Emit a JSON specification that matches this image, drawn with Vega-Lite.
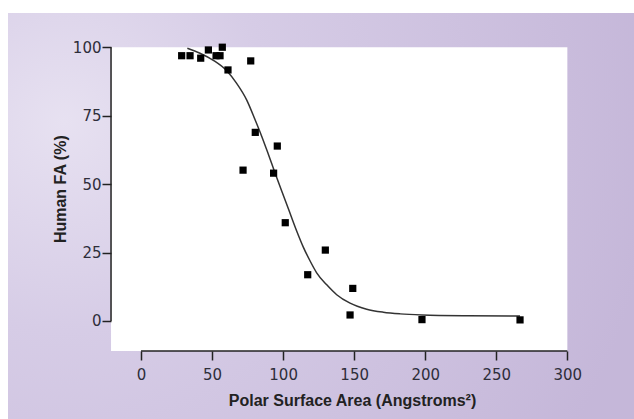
{
  "$schema": "https://vega.github.io/schema/vega-lite/v6.json",
  "width": 626,
  "height": 406,
  "autosize": {"type": "none"},
  "padding": {"left": 8, "top": 13, "right": 0, "bottom": 0},
  "background": "white",
  "config": {"view": {"stroke": null}, "font": "Liberation Sans"},
  "datasets": {
    "points": [
      {"psa": 28.6, "fa": 96.9},
      {"psa": 34.5, "fa": 96.9},
      {"psa": 42.0, "fa": 96.0},
      {"psa": 47.4, "fa": 99.0},
      {"psa": 52.8, "fa": 96.9},
      {"psa": 55.6, "fa": 96.9},
      {"psa": 57.2, "fa": 100.0},
      {"psa": 61.2, "fa": 91.7},
      {"psa": 77.2, "fa": 95.0},
      {"psa": 80.4, "fa": 68.9},
      {"psa": 95.9, "fa": 63.9},
      {"psa": 71.8, "fa": 55.1},
      {"psa": 93.3, "fa": 54.0},
      {"psa": 101.5, "fa": 35.9},
      {"psa": 129.7, "fa": 25.9},
      {"psa": 117.3, "fa": 16.9},
      {"psa": 149.0, "fa": 11.9},
      {"psa": 147.1, "fa": 2.2},
      {"psa": 197.7, "fa": 0.5},
      {"psa": 266.7, "fa": 0.4}
    ],
    "curve": [
      {"psa": 32.6, "fa": 99.6},
      {"psa": 41.5, "fa": 97.8},
      {"psa": 50.9, "fa": 95.2},
      {"psa": 60.3, "fa": 91.4},
      {"psa": 67.3, "fa": 86.8},
      {"psa": 74.4, "fa": 80.7},
      {"psa": 80.2, "fa": 73.6},
      {"psa": 84.9, "fa": 67.5},
      {"psa": 89.6, "fa": 60.9},
      {"psa": 94.3, "fa": 54.1},
      {"psa": 99.0, "fa": 47.5},
      {"psa": 103.7, "fa": 41.0},
      {"psa": 109.6, "fa": 32.8},
      {"psa": 114.2, "fa": 27.0},
      {"psa": 118.9, "fa": 22.0},
      {"psa": 123.6, "fa": 17.6},
      {"psa": 130.7, "fa": 13.2},
      {"psa": 137.7, "fa": 9.6},
      {"psa": 147.1, "fa": 6.5},
      {"psa": 158.8, "fa": 4.3},
      {"psa": 170.5, "fa": 3.2},
      {"psa": 182.3, "fa": 2.6},
      {"psa": 197.7, "fa": 2.2},
      {"psa": 230.0, "fa": 1.9},
      {"psa": 266.7, "fa": 1.8}
    ]
  },
  "layer": [
    {
      "data": {"values": [{}]},
      "mark": {
        "type": "rect",
        "strokeWidth": 0,
        "color": {
          "gradient": "radial",
          "x1": 0.09, "y1": 0.35, "r1": 0,
          "x2": 0.09, "y2": 0.35, "r2": 0.95,
          "stops": [
            {"offset": 0, "color": "#e7e1f1"},
            {"offset": 0.35, "color": "#d6cce6"},
            {"offset": 1, "color": "#c5b7d9"}
          ]
        }
      },
      "encoding": {
        "x": {"datum": -93.6, "type": "quantitative", "scale": {"domain": [-93.6, 346.9], "nice": false, "zero": false}},
        "x2": {"datum": 346.9},
        "y": {"datum": -35.8, "type": "quantitative", "scale": {"domain": [-35.8, 112.5], "nice": false, "zero": false}},
        "y2": {"datum": 112.5}
      }
    },
    {
      "data": {"values": [{}]},
      "mark": {"type": "rect", "color": "white", "strokeWidth": 0},
      "encoding": {
        "x": {"datum": -21.1, "type": "quantitative", "scale": {"domain": [-93.6, 346.9], "nice": false, "zero": false}},
        "x2": {"datum": 300},
        "y": {"datum": -10.96, "type": "quantitative", "scale": {"domain": [-35.8, 112.5], "nice": false, "zero": false}},
        "y2": {"datum": 100}
      }
    },
    {
      "data": {"values": [{}]},
      "mark": {"type": "rule", "color": "#222222", "strokeWidth": 1.5},
      "encoding": {
        "x": {"datum": 0, "type": "quantitative", "scale": {"domain": [-93.6, 346.9], "nice": false, "zero": false}},
        "x2": {"datum": 300},
        "y": {"datum": -10.96, "type": "quantitative", "scale": {"domain": [-35.8, 112.5], "nice": false, "zero": false}}
      }
    },
    {
      "data": {"values": [{}]},
      "mark": {"type": "rule", "color": "#222222", "strokeWidth": 1.5},
      "encoding": {
        "x": {"datum": -21.1, "type": "quantitative", "scale": {"domain": [-93.6, 346.9], "nice": false, "zero": false}},
        "y": {"datum": 0, "type": "quantitative", "scale": {"domain": [-35.8, 112.5], "nice": false, "zero": false}},
        "y2": {"datum": 100}
      }
    },
    {
      "data": {"name": "curve"},
      "mark": {"type": "line", "color": "#333333", "strokeWidth": 1.5, "interpolate": "monotone"},
      "encoding": {
        "x": {"field": "psa", "type": "quantitative", "scale": {"domain": [-93.6, 346.9], "nice": false, "zero": false}},
        "y": {"field": "fa", "type": "quantitative", "scale": {"domain": [-35.8, 112.5], "nice": false, "zero": false}}
      }
    },
    {
      "data": {"name": "points"},
      "mark": {"type": "point", "shape": "square", "filled": true, "color": "black", "size": 52, "opacity": 1},
      "encoding": {
        "x": {
          "field": "psa", "type": "quantitative",
          "scale": {"domain": [-93.6, 346.9], "nice": false, "zero": false},
          "axis": {
            "zindex": 2,
            "offset": -68, "domain": false, "grid": false,
            "values": [0, 50, 100, 150, 200, 250, 300],
            "tickSize": 9, "tickWidth": 1.5, "tickColor": "#222222",
            "labelFont": "DejaVu Sans", "labelFontSize": 15, "labelColor": "#2e2e3a", "labelPadding": 7,
            "title": "Polar Surface Area (Angstroms²)",
            "titleFont": "Liberation Sans", "titleFontSize": 16, "titleFontWeight": "bold", "titleColor": "#222222",
            "titleX": 344, "titleY": 54, "titleBaseline": "alphabetic", "titleAlign": "center"
          }
        },
        "y": {
          "field": "fa", "type": "quantitative",
          "scale": {"domain": [-35.8, 112.5], "nice": false, "zero": false},
          "axis": {
            "zindex": 2,
            "offset": -103, "domain": false, "grid": false,
            "values": [0, 25, 50, 75, 100],
            "tickSize": 9, "tickWidth": 1.5, "tickColor": "#222222",
            "labelFont": "DejaVu Sans", "labelFontSize": 15, "labelColor": "#2e2e3a", "labelPadding": 1,
            "title": "Human FA (%)",
            "titleFont": "Liberation Sans", "titleFontSize": 16, "titleFontWeight": "bold", "titleColor": "#222222",
            "titleX": -46, "titleY": 175.7, "titleBaseline": "alphabetic", "titleAlign": "center", "titleAngle": -90
          }
        }
      }
    }
  ]
}
